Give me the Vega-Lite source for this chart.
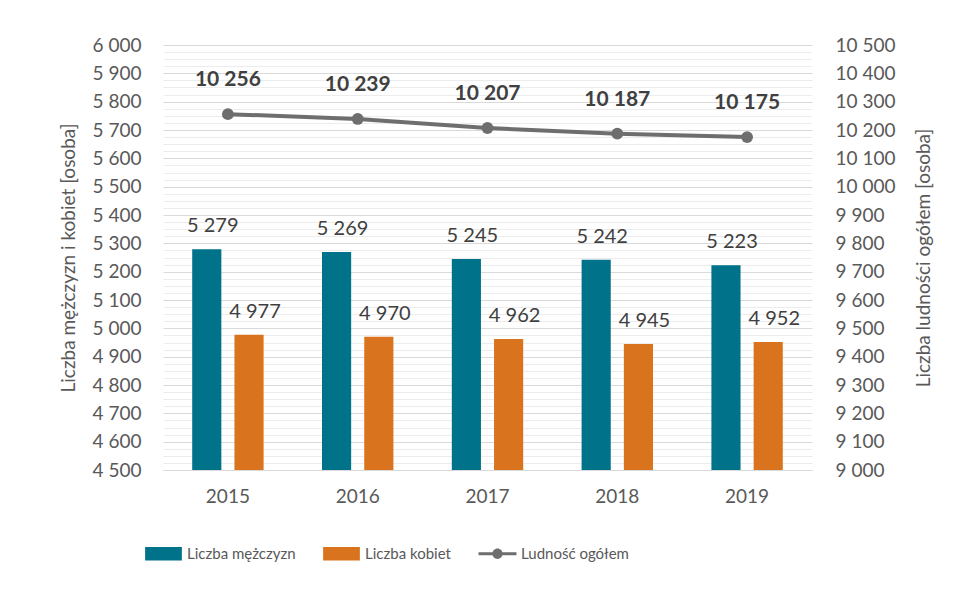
{
  "$schema": "https://vega.github.io/schema/vega-lite/v6.json",
  "width": 649,
  "height": 425,
  "autosize": {"type": "none"},
  "padding": {"left": 163, "top": 45, "right": 154, "bottom": 119},
  "background": "white",
  "config": {
    "font": "Lato",
    "view": {"stroke": null},
    "locale": {"number": {"decimal": ",", "thousands": " ", "grouping": [3], "currency": ["", " zł"]}},
    "axis": {"labelFont": "Lato", "titleFont": "Lato", "labelColor": "#595959", "titleColor": "#595959", "titleFontWeight": "normal"}
  },
  "datasets": {
    "bars": [
      {"rok": "2015", "seria": "Liczba mężczyzn", "wartosc": 5279},
      {"rok": "2015", "seria": "Liczba kobiet", "wartosc": 4977},
      {"rok": "2016", "seria": "Liczba mężczyzn", "wartosc": 5269},
      {"rok": "2016", "seria": "Liczba kobiet", "wartosc": 4970},
      {"rok": "2017", "seria": "Liczba mężczyzn", "wartosc": 5245},
      {"rok": "2017", "seria": "Liczba kobiet", "wartosc": 4962},
      {"rok": "2018", "seria": "Liczba mężczyzn", "wartosc": 5242},
      {"rok": "2018", "seria": "Liczba kobiet", "wartosc": 4945},
      {"rok": "2019", "seria": "Liczba mężczyzn", "wartosc": 5223},
      {"rok": "2019", "seria": "Liczba kobiet", "wartosc": 4952}
    ],
    "line": [
      {"rok": "2015", "seria": "Ludność ogółem", "ludnosc": 10256},
      {"rok": "2016", "seria": "Ludność ogółem", "ludnosc": 10239},
      {"rok": "2017", "seria": "Ludność ogółem", "ludnosc": 10207},
      {"rok": "2018", "seria": "Ludność ogółem", "ludnosc": 10187},
      {"rok": "2019", "seria": "Ludność ogółem", "ludnosc": 10175}
    ]
  },
  "layer": [
    {
      "data": {"name": "bars"},
      "encoding": {
        "x": {
          "field": "rok", "type": "nominal",
          "scale": {"paddingInner": 0.45, "paddingOuter": 0.225},
          "axis": {"title": null, "labelAngle": 0, "ticks": false, "domainColor": "#d9d9d9", "labelFontSize": 19, "labelPadding": 17}
        },
        "xOffset": {"field": "seria", "type": "nominal", "sort": ["Liczba mężczyzn", "Liczba kobiet"], "scale": {"paddingInner": 0.31, "paddingOuter": 0}},
        "y": {
          "field": "wartosc", "type": "quantitative",
          "scale": {"domain": [4500, 6000], "zero": false, "nice": false},
          "axis": {
            "orient": "left",
            "title": "Liczba mężczyzn i kobiet [osoba]",
            "titleFontSize": 19, "titlePadding": 14,
            "values": [4500,4525,4550,4575,4600,4625,4650,4675,4700,4725,4750,4775,4800,4825,4850,4875,4900,4925,4950,4975,5000,5025,5050,5075,5100,5125,5150,5175,5200,5225,5250,5275,5300,5325,5350,5375,5400,5425,5450,5475,5500,5525,5550,5575,5600,5625,5650,5675,5700,5725,5750,5775,5800,5825,5850,5875,5900,5925,5950,5975,6000],
            "format": ",d",
            "labelExpr": "datum.value % 100 === 0 ? datum.label : ''",
            "labelOverlap": false,
            "labelFontSize": 19, "labelPadding": 22,
            "ticks": false, "domain": false,
            "grid": true,
            "gridColor": {"condition": {"test": "datum.value % 100 === 0", "value": "#d9d9d9"}, "value": "#ececec"},
            "gridWidth": 1
          }
        }
      },
      "layer": [
        {
          "mark": {"type": "bar"},
          "encoding": {
            "y2": {"datum": 4500},
            "color": {
              "field": "seria", "type": "nominal",
              "scale": {"domain": ["Liczba mężczyzn", "Liczba kobiet", "Ludność ogółem"], "range": ["#00728A", "#D9731E", "#6E6E6E"]},
              "legend": {
                "title": null, "orient": "none", "direction": "horizontal",
                "legendX": -12, "legendY": 496,
                "labelFontSize": 15, "labelColor": "#595959", "labelFont": "Lato",
                "symbolSize": 600, "columnPadding": 27, "labelOffset": 11,
                "encode": {
                  "symbols": {
                    "update": {
                      "shape": {"signal": "datum.value === 'Ludność ogółem' ? 'M-1.55,-0.13H1.55V0.13H-1.55Z M0.42,0A0.42,0.42 0 1,1 -0.42,0A0.42,0.42 0 1,1 0.42,0Z' : 'M-1.5,-0.55H1.5V0.55H-1.5Z'"},
                      "fill": {"scale": "color", "field": "value"},
                      "strokeWidth": {"value": 0},
                      "opacity": {"value": 1}
                    }
                  }
                }
              }
            }
          }
        },
        {
          "mark": {"type": "text", "fontSize": 20, "color": "#404040", "dx": 6, "dy": -23, "baseline": "middle"},
          "encoding": {"text": {"field": "wartosc", "type": "quantitative", "format": ",d"}}
        }
      ]
    },
    {
      "data": {"name": "line"},
      "encoding": {
        "x": {"field": "rok", "type": "nominal"},
        "y": {
          "field": "ludnosc", "type": "quantitative",
          "scale": {"domain": [9000, 10500], "zero": false, "nice": false},
          "axis": {
            "orient": "right",
            "title": "Liczba ludności ogółem [osoba]",
            "titleFontSize": 19, "titlePadding": 39, "titleAngle": 270,
            "values": [9000,9100,9200,9300,9400,9500,9600,9700,9800,9900,10000,10100,10200,10300,10400,10500],
            "format": ",d",
            "labelFontSize": 19, "labelPadding": 23,
            "ticks": false, "domain": false, "grid": false
          }
        }
      },
      "layer": [
        {
          "mark": {"type": "line", "strokeWidth": 4, "point": {"filled": true, "size": 140, "color": "#666666"}},
          "encoding": {"color": {"field": "seria", "type": "nominal"}}
        },
        {
          "mark": {"type": "text", "fontSize": 21, "fontWeight": "bold", "color": "#404040", "dy": -34, "baseline": "middle"},
          "encoding": {"text": {"field": "ludnosc", "type": "quantitative", "format": ",d"}}
        }
      ]
    }
  ],
  "resolve": {"scale": {"y": "independent"}}
}
